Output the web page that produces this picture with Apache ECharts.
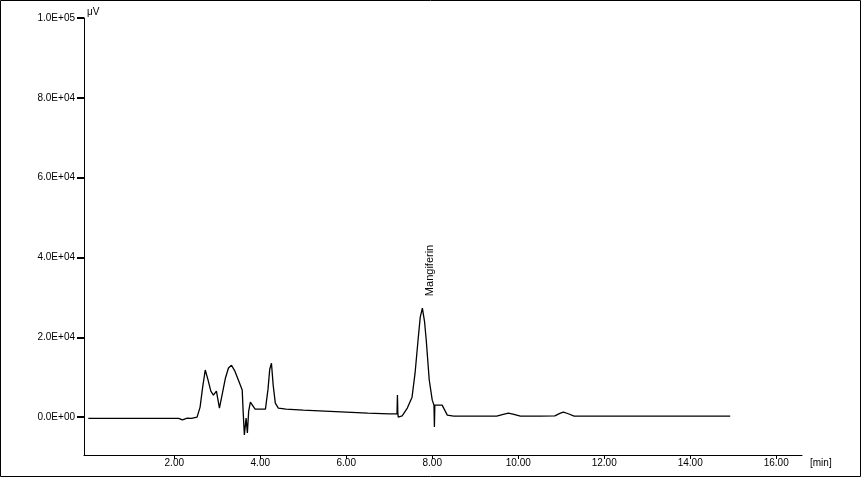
<!DOCTYPE html>
<html>
<head>
<meta charset="utf-8">
<script src="https://cdn.jsdelivr.net/npm/echarts@6/dist/echarts.min.js"></script>
<style>
html,body{margin:0;padding:0;background:#fff;}
#c{width:861px;height:477px;}
</style>
</head>
<body>
<div id="c"></div>
<script>
// Retention time (min)
var times = [0, 1, 2, 2.1, 2.19, 2.3, 2.4, 2.53, 2.6, 2.66, 2.72, 2.78, 2.85, 2.91, 2.98, 3.05, 3.12, 3.19, 3.26, 3.33, 3.41, 3.49, 3.58, 3.6, 3.63, 3.67, 3.70, 3.73, 3.77, 3.88, 4.0, 4.12, 4.18, 4.22, 4.26, 4.3, 4.35, 4.42, 4.6, 5.0, 5.5, 6.0, 6.5, 7.0, 7.18, 7.19, 7.2, 7.21, 7.3, 7.42, 7.53, 7.6, 7.67, 7.72, 7.77, 7.82, 7.86, 7.93, 8.0, 8.04, 8.05, 8.06, 8.14, 8.23, 8.35, 8.5, 9.0, 9.5, 9.65, 9.77, 9.9, 10.05, 10.5, 10.85, 10.98, 11.05, 11.15, 11.3, 12, 13, 14, 14.93];
// Detector signal (µV)
var signal = [-300, -300, -300, -300, -700, -250, -300, 0, 2500, 7500, 11800, 9500, 6500, 5500, 6500, 2250, 6000, 9800, 12300, 13000, 11500, 9300, 6800, 1750, -4500, -250, -4000, 1500, 3750, 2000, 2000, 2000, 7000, 12000, 13500, 8000, 3500, 2250, 2000, 1750, 1500, 1250, 1000, 800, 800, 5500, 800, 0, 300, 2250, 5000, 11000, 19300, 25000, 27300, 24000, 19300, 9300, 4250, 3000, -2500, 3000, 3000, 3000, 500, 250, 250, 250, 700, 1000, 700, 250, 250, 300, 1000, 1250, 900, 250, 250, 250, 250, 250];
var yTickValues = [0, 20000, 40000, 60000, 80000, 100000];
var yTickLabels = ['0.0E+00', '2.0E+04', '4.0E+04', '6.0E+04', '8.0E+04', '1.0E+05'];
var xTickValues = [2, 4, 6, 8, 10, 12, 14, 16];
var xTickLabels = ['2.00', '4.00', '6.00', '8.00', '10.00', '12.00', '14.00', '16.00'];
var peakName = 'Mangiferin';
var peakTime = 7.77;
var peakValue = 27300;

var data = times.map(function (t, i) { return [t, signal[i]]; });
var chart = echarts.init(document.getElementById('c'), null, {renderer: 'canvas'});
var font = 'Liberation Sans';
chart.setOption({
  animation: false,
  grid: {left: 84, top: 18, right: 59, bottom: 22},
  xAxis: {
    type: 'value', min: -0.1, max: 16.6,
    axisLine: {show: true, onZero: false, lineStyle: {color: '#000', width: 1}},
    axisTick: {show: true, length: 4, lineStyle: {color: '#000'}, customValues: xTickValues},
    axisLabel: {color: '#000', fontSize: 10, fontFamily: font, margin: 3, customValues: xTickValues,
      formatter: function (v) { var i = xTickValues.indexOf(v); return i >= 0 ? xTickLabels[i] : ''; }},
    splitLine: {show: false}
  },
  yAxis: {
    type: 'value', min: -9500, max: 100000,
    axisLine: {show: true, onZero: false, lineStyle: {color: '#000', width: 1}},
    axisTick: {show: true, length: 7, lineStyle: {color: '#000', width: 2}, customValues: yTickValues},
    axisLabel: {color: '#000', fontSize: 10, fontFamily: font, margin: 9, customValues: yTickValues,
      formatter: function (v) { var i = yTickValues.indexOf(v); return i >= 0 ? yTickLabels[i] : ''; }},
    splitLine: {show: false}
  },
  series: [{
    type: 'line', data: data, showSymbol: false, symbol: 'none',
    lineStyle: {color: '#000', width: 1.3}
  }]
});
var p = chart.convertToPixel({gridIndex: 0}, [peakTime, peakValue]);
chart.setOption({
  graphic: [
    {type: 'rect', shape: {x: 0.5, y: 0.5, width: 860, height: 476}, style: {fill: 'none', stroke: '#000', lineWidth: 1}},
    {type: 'text', x: 87, y: 7, style: {text: 'μV', fill: '#000', font: '10px ' + font}},
    {type: 'text', x: 810, y: 458, style: {text: '[min]', fill: '#000', font: '10px ' + font}},
    {type: 'text', x: p[0] + 8, y: p[1] - 12, rotation: Math.PI / 2,
      style: {text: peakName, fill: '#000', font: '11px ' + font, align: 'left', verticalAlign: 'middle'}}
  ]
});
</script>
</body>
</html>
